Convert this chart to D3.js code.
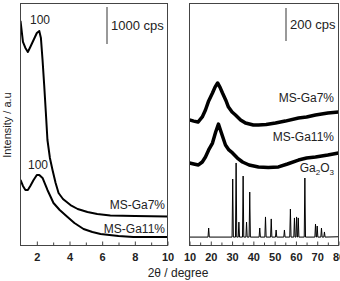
<!DOCTYPE html>
<html>
<head>
  <meta charset="utf-8">
  <title>XRD patterns</title>
  <script src="https://d3js.org/d3.v7.min.js"></script>
  <style>
    body { margin: 0; background: #fff; }
    text { font-family: "Liberation Sans", Arial, sans-serif; fill: #222; }
  </style>
</head>
<body>
<script>
// ---- data (intensities in cps incl. stacking offset) ----
// low-angle panel
var lowTheta7  = [1.0, 1.05, 1.15, 1.3, 1.45, 1.6, 1.8, 2.0, 2.15, 2.25, 2.35, 2.45, 2.55, 2.65, 2.8, 2.96, 3.15, 3.33, 3.6, 4.06, 4.5, 5.1, 5.7, 6.5, 8, 10];
var lowGa7     = [6055, 5866, 5487, 5325, 5217, 5352, 5541, 5730, 5784, 5595, 5001, 4325, 3595, 2838, 2352, 2027, 1676, 1406, 1243, 1081, 973, 892, 838, 797, 784, 770];
var lowTheta11 = [1.0, 1.15, 1.3, 1.45, 1.6, 1.8, 2.0, 2.15, 2.35, 2.5, 2.65, 2.85, 3.02, 3.4, 3.88, 4.3, 4.86, 5.4, 5.9, 7, 7.9, 10];
var lowGa11    = [1757, 1595, 1487, 1487, 1595, 1757, 1892, 1892, 1811, 1649, 1487, 1297, 1135, 946, 757, 595, 432, 351, 297, 243, 216, 216];

// wide-angle panel
var wideTheta7  = [10, 12, 14, 16, 17.5, 19, 20.8, 22, 23.2, 24.3, 25.5, 27, 28.3, 30, 31.6, 34, 36.3, 40, 42.4, 46, 50.4, 55, 61.2, 65, 69.2, 75, 80];
var wideGa7     = [758, 751, 745, 776, 818, 873, 921, 957, 982, 957, 921, 879, 836, 806, 788, 758, 739, 727, 727, 730, 739, 751, 770, 776, 788, 800, 806];
var wideTheta11 = [10, 12, 14.2, 16, 17.5, 19, 20.8, 22.3, 23.6, 25, 26.9, 28.5, 30.2, 32.5, 34.9, 38, 42.4, 47, 51.8, 56, 61.2, 65, 69.2, 75, 80];
var wideGa11    = [497, 491, 485, 503, 533, 576, 618, 685, 733, 679, 606, 576, 558, 527, 503, 485, 473, 470, 473, 491, 515, 527, 533, 545, 558];

// Ga2O3 reference reflections
var refBase   = 48;
var refTheta  = [19.0, 30.3, 31.9, 33.2, 35.2, 36.8, 38.3, 43.0, 45.7, 48.4, 50.7, 54.6, 57.4, 59.3, 60.3, 61.1, 64.2, 69.2, 70.0, 72.0, 73.4];
var refHeight = [103, 400, 497, 139, 418, 139, 321, 103, 170, 158, 91, 91, 218, 164, 170, 164, 406, 127, 115, 103, 79];

var lowTicks  = [2, 4, 6, 8, 10];
var wideTicks = [10, 20, 30, 40, 50, 60, 70, 80];

// ---- layout ----
var width = 340, height = 281;
var yTop = 3, yBottom = 245;

var svg = d3.select("body").append("svg")
  .attr("width", width).attr("height", height);

var xLow  = d3.scaleLinear().domain([1, 10]).range([20.5, 167.5]);
var xWide = d3.scaleLinear().domain([10, 80]).range([189.5, 338.5]);
var yLow  = d3.scaleLinear().domain([0, 1000]).range([yBottom, yBottom - 37]);
var yWide = d3.scaleLinear().domain([0, 200]).range([yBottom, yBottom - 33]);

function pairs(xs, ys) { return xs.map(function(x, i) { return [x, ys[i]]; }); }

// stick pattern -> line points
var refPts = [[10, refBase]];
refTheta.forEach(function(t, i) {
  refPts.push([t - 0.3, refBase], [t, refHeight[i]], [t + 0.3, refBase]);
});
refPts.push([80, refBase + 2]);

function panel(name, x, y, series) {
  var g = svg.append("g");
  g.append("clipPath").attr("id", "clip-" + name)
    .append("rect")
    .attr("x", x.range()[0]).attr("y", yTop)
    .attr("width", x.range()[1] - x.range()[0]).attr("height", yBottom - yTop);

  var line = d3.line().x(function(d) { return x(d[0]); }).y(function(d) { return y(d[1]); });
  series.forEach(function(s) {
    g.append("path")
      .attr("clip-path", "url(#clip-" + name + ")")
      .attr("d", line(s.pts))
      .attr("fill", "none")
      .attr("stroke", "#000")
      .attr("stroke-width", s.w)
      .attr("stroke-linejoin", "round");
  });

  // frame
  g.append("rect")
    .attr("x", x.range()[0]).attr("y", yTop + 0.5)
    .attr("width", x.range()[1] - x.range()[0]).attr("height", yBottom - yTop)
    .attr("fill", "none").attr("stroke", "#444").attr("stroke-width", 1);
  return g;
}

var gl = panel("low", xLow, yLow, [
  { pts: pairs(lowTheta7, lowGa7), w: 2 },
  { pts: pairs(lowTheta11, lowGa11), w: 2 }
]);
var gw = panel("wide", xWide, yWide, [
  { pts: pairs(wideTheta7, wideGa7), w: 3.5 },
  { pts: pairs(wideTheta11, wideGa11), w: 3.5 },
  { pts: refPts, w: 1 }
]);

// inward ticks
function ticks(g, x, majors, minors) {
  var ax = g.append("g").attr("transform", "translate(0," + (yBottom + 0.5) + ")")
    .call(d3.axisBottom(x).tickValues(majors).tickSizeInner(-4).tickSizeOuter(0).tickPadding(8));
  ax.select(".domain").remove();
  ax.selectAll("line").attr("stroke", "#444");
  ax.selectAll("text")
    .style("font-family", "'Liberation Sans', Arial, sans-serif")
    .style("font-size", "11px").style("font-weight", "bold").attr("fill", "#222");
  g.append("g").attr("transform", "translate(0," + (yBottom + 0.5) + ")")
    .call(d3.axisBottom(x).tickValues(minors).tickSize(-3).tickFormat(""))
    .call(function(a) { a.select(".domain").remove(); a.selectAll("line").attr("stroke", "#444"); });
}
ticks(gl, xLow, lowTicks, [3, 5, 7, 9]);
ticks(gw, xWide, wideTicks, [15, 25, 35, 45, 55, 65, 75]);

// scale bars
function scaleBar(x0, y0, y1, label) {
  svg.append("line").attr("x1", x0).attr("x2", x0).attr("y1", y0).attr("y2", y1)
    .attr("stroke", "#777").attr("stroke-width", 1.5);
  svg.append("text").attr("x", x0 + 4).attr("y", (y0 + y1) / 2 + 4)
    .style("font-size", "13px").text(label);
}
scaleBar(107, 7, 44, "1000 cps");
scaleBar(286, 8, 41, "200 cps");

function label(x, y, t, anchor) {
  return svg.append("text").attr("x", x).attr("y", y)
    .attr("text-anchor", anchor || "end").style("font-size", "12px").text(t);
}
label(40, 24, "100", "middle");
label(38, 169, "100", "middle");
label(165, 209, "MS-Ga7%");
label(165, 233, "MS-Ga11%");
label(334, 102, "MS-Ga7%");
label(334, 141, "MS-Ga11%");

var ga = svg.append("text").attr("x", 334).attr("y", 172)
  .attr("text-anchor", "end").style("font-size", "12px");
ga.append("tspan").text("Ga");
ga.append("tspan").attr("dy", 3).style("font-size", "8px").text("2");
ga.append("tspan").attr("dy", -3).text("O");
ga.append("tspan").attr("dy", 3).style("font-size", "8px").text("3");

svg.append("text").attr("x", 178).attr("y", 277).attr("text-anchor", "middle")
  .style("font-size", "12px").text("2\u03b8 / degree");
svg.append("text").attr("transform", "translate(11,125) rotate(-90)")
  .attr("text-anchor", "middle").style("font-size", "11px").text("Intensity / a.u");
</script>
</body>
</html>
